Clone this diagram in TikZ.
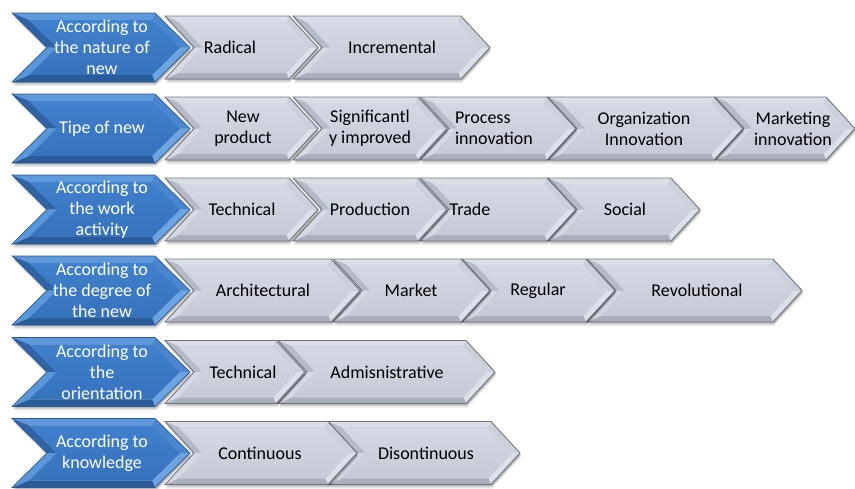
\documentclass[tikz,border=0pt]{standalone}
\usepackage{fontspec}
\setmainfont{Carlito}
\definecolor{gedge}{HTML}{72767E}
\definecolor{gtopc}{HTML}{DADEE7}
\definecolor{gbotc}{HTML}{A9AFBC}
\definecolor{gtipuc}{HTML}{CBD0DB}
\definecolor{gtiplc}{HTML}{DCE0EA}
\definecolor{gnotuc}{HTML}{B4BAC6}
\definecolor{gnotlc}{HTML}{D4D9E3}
\definecolor{gfacet}{HTML}{D3D8E2}
\definecolor{gfaceb}{HTML}{C5CAD6}
\definecolor{bedge}{HTML}{2F5A8E}
\definecolor{btopc}{HTML}{5E99DC}
\definecolor{bbotc}{HTML}{2A5B9A}
\definecolor{btipuc}{HTML}{4A86D0}
\definecolor{btiplc}{HTML}{6CA4E3}
\definecolor{bnotuc}{HTML}{2E63A6}
\definecolor{bnotlc}{HTML}{5A96DA}
\definecolor{bfacet}{HTML}{4180CD}
\definecolor{bfaceb}{HTML}{3772BC}
\tikzset{
  gline/.style={draw=gedge, line width=0.9pt},
  gtop/.style={fill=gtopc}, gbot/.style={fill=gbotc},
  gtipu/.style={fill=gtipuc}, gtipl/.style={fill=gtiplc},
  gnotu/.style={fill=gnotuc}, gnotl/.style={fill=gnotlc},
  gface/.style={top color=gfacet, bottom color=gfaceb},
  bline/.style={draw=bedge, line width=0.7pt},
  btop/.style={fill=btopc}, bbot/.style={fill=bbotc},
  btipu/.style={fill=btipuc}, btipl/.style={fill=btiplc},
  bnotu/.style={fill=bnotuc}, bnotl/.style={fill=bnotlc},
  bface/.style={top color=bfacet, bottom color=bfaceb},
  gtext/.style={text=black, align=center, inner sep=0pt, font=\fontsize{18}{21}\selectfont},
  btext/.style={text=white, align=center, inner sep=0pt, font=\fontsize{18}{21}\selectfont},
}
% #1 left x, #2 tip x, #3 centre y, #4 half height, #5 point depth, #6 bevel, #7 kind (g or b)
\newcommand\chev[7]{%
\pgfmathsetmacro\cK{#5/#4}%
\pgfmathsetmacro\cS{#6*sqrt(1+\cK*\cK)}%
\pgfmathsetmacro\cA{#1+\cK*#6+\cS}%
\pgfmathsetmacro\cB{#1+#5+\cS}%
\pgfmathsetmacro\cC{#2-#5+\cK*#6-\cS}%
\pgfmathsetmacro\cD{#2-\cS}%
\pgfmathsetmacro\cyT{#3-#4}\pgfmathsetmacro\cyB{#3+#4}%
\pgfmathsetmacro\cyTi{#3-#4+#6}\pgfmathsetmacro\cyBi{#3+#4-#6}%
\pgfmathsetmacro\cxS{#2-#5}\pgfmathsetmacro\cxN{#1+#5}%
\foreach \sh/\op in {4/0.08,2.5/0.12,1.2/0.15}{%
\fill[black,opacity=\op] (#1+1,\cyT+\sh) -- (\cxS+1,\cyT+\sh) -- (#2+1,#3+\sh) -- (\cxS+1,\cyB+\sh) -- (#1+1,\cyB+\sh) -- (\cxN+1,#3+\sh) -- cycle;}
\path[#7top] (#1,\cyT) -- (\cxS,\cyT) -- (\cC,\cyTi) -- (\cA,\cyTi) -- cycle;
\path[#7tipu] (\cxS,\cyT) -- (#2,#3) -- (\cD,#3) -- (\cC,\cyTi) -- cycle;
\path[#7tipl] (#2,#3) -- (\cxS,\cyB) -- (\cC,\cyBi) -- (\cD,#3) -- cycle;
\path[#7bot] (\cxS,\cyB) -- (#1,\cyB) -- (\cA,\cyBi) -- (\cC,\cyBi) -- cycle;
\path[#7notu] (#1,\cyT) -- (\cxN,#3) -- (\cB,#3) -- (\cA,\cyTi) -- cycle;
\path[#7notl] (\cxN,#3) -- (#1,\cyB) -- (\cA,\cyBi) -- (\cB,#3) -- cycle;
\path[#7face] (\cA,\cyTi) -- (\cC,\cyTi) -- (\cD,#3) -- (\cC,\cyBi) -- (\cA,\cyBi) -- (\cB,#3) -- cycle;
\path[#7line] (#1,\cyT) -- (\cxS,\cyT) -- (#2,#3) -- (\cxS,\cyB) -- (#1,\cyB) -- (\cxN,#3) -- cycle;
}
\newcommand\gch[3]{\chev{#1}{#2}{#3}{31.5}{29}{6}{g}}
\newcommand\bch[1]{\chev{12}{190}{#1}{34.5}{35}{7}{b}}
\begin{document}
\begin{tikzpicture}[x=1pt,y=-1pt]
\useasboundingbox (0,0) rectangle (855,488);
% row 1
\gch{293}{490}{47.5}\gch{165}{318}{47.5}\bch{47.5}
\node[gtext] (r1a) at (230,47.5) {Radical};
\node[gtext] (r1b) at (392,47.5) {Incremental};
\node[btext] (r1h) at (102,47.5) {According to\\the nature of\\new};
% row 2
\gch{715}{855}{128.5}\gch{548}{743}{128.5}\gch{420}{576}{128.5}\gch{293}{447}{128.5}\gch{165}{318}{128.5}\bch{128.5}
\node[gtext] (r2a) at (243,128.5) {New\\product};
\node[gtext] (r2b) at (370,128.5) {Significantl\\y improved};
\node[gtext,align=left] (r2c) at (494,128.5) {Process\\innovation};
\node[gtext] (r2d) at (644,128.5) {Organization\\Innovation};
\node[gtext] (r2e) at (793,128.5) {Marketing\\innovation};
\node[btext] (r2h) at (102,128.5) {Tipe of new};
% row 3
\gch{548}{700}{209.5}\gch{420}{576}{209.5}\gch{293}{447}{209.5}\gch{165}{318}{209.5}\bch{209.5}
\node[gtext] (r3a) at (242,209.5) {Technical};
\node[gtext] (r3b) at (370,209.5) {Production};
\node[gtext] (r3c) at (470,209.5) {Trade};
\node[gtext] (r3d) at (625,209.5) {Social};
\node[btext] (r3h) at (102,209.5) {According to\\the work\\activity};
% row 4
\gch{587}{802}{290.5}\gch{462}{615}{290.5}\gch{333}{490}{290.5}\gch{165}{360}{290.5}\bch{290.5}
\node[gtext] (r4a) at (263,290.5) {Architectural};
\node[gtext] (r4b) at (411,290.5) {Market};
\node[gtext] (r4c) at (538,290.5) {Regular};
\node[gtext] (r4d) at (697,290.5) {Revolutional};
\node[btext] (r4h) at (102,290.5) {According to\\the degree of\\the new};
% row 5
\gch{278}{495}{372}\gch{165}{305}{372}\bch{372}
\node[gtext] (r5a) at (243,372) {Technical};
\node[gtext] (r5b) at (387,372) {Admisnistrative};
\node[btext] (r5h) at (102,372) {According to\\the\\orientation};
% row 6
\gch{328}{520}{453}\gch{165}{357}{453}\bch{453}
\node[gtext] (r6a) at (260,453) {Continuous};
\node[gtext] (r6b) at (426,453) {Disontinuous};
\node[btext] (r6h) at (102,453) {According to\\knowledge};
\end{tikzpicture}
\end{document}
